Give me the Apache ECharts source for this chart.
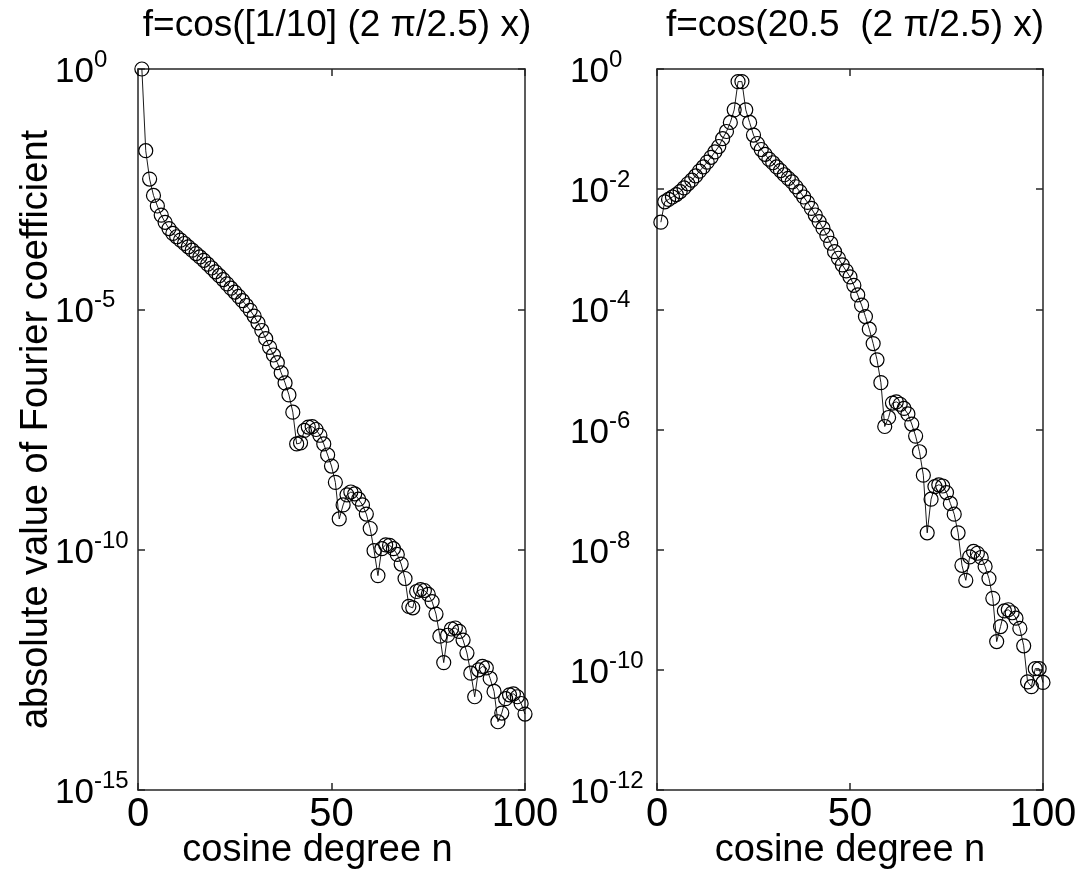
<!DOCTYPE html>
<html><head><meta charset="utf-8">
<script src="https://cdn.jsdelivr.net/npm/echarts@6/dist/echarts.min.js"></script>
<style>html,body{margin:0;padding:0;background:#fff}#c{width:1075px;height:876px}</style>
</head><body><div id="c"></div>
<script>
// cosine degree n (x positions of the markers)
const degrees = [1,2,3,4,5,6,7,8,9,10,11,12,13,14,15,16,17,18,19,20,
 21,22,23,24,25,26,27,28,29,30,31,32,33,34,35,36,37,38,39,40,
 41,42,43,44,45,46,47,48,49,50,51,52,53,54,55,56,57,58,59,60,
 61,62,63,64,65,66,67,68,69,70,71,72,73,74,75,76,77,78,79,80,
 81,82,83,84,85,86,87,88,89,90,91,92,93,94,95,96,97,98,99,100];

// log10 of |Fourier coefficient|, f = cos([1/10](2 pi/2.5) x)
const leftLog10 = [0, -1.70, -2.29, -2.63, -2.85, -3.04, -3.19, -3.32, -3.42, -3.49,
 -3.56, -3.63, -3.70, -3.77, -3.84, -3.91, -3.98, -4.06, -4.14, -4.22,
 -4.30, -4.38, -4.47, -4.56, -4.64, -4.73, -4.82, -4.92, -5.02, -5.14,
 -5.28, -5.44, -5.61, -5.79, -5.95, -6.11, -6.32, -6.53, -6.78, -7.14,
 -7.80, -7.78, -7.52, -7.45, -7.44, -7.50, -7.62, -7.80, -8.03, -8.26,
 -8.60, -9.36, -9.07, -8.86, -8.80, -8.84, -8.95, -9.07, -9.26, -9.56,
 -10.02, -10.54, -9.98, -9.90, -9.91, -9.98, -10.10, -10.30, -10.60, -11.18,
 -11.21, -10.87, -10.83, -10.85, -10.93, -11.08, -11.34, -11.80, -12.35, -11.78,
 -11.65, -11.63, -11.70, -11.88, -12.15, -12.57, -13.06, -12.50, -12.43, -12.46,
 -12.68, -12.95, -13.58, -13.40, -13.10, -13.02, -13.00, -13.06, -13.20, -13.42];

// log10 of |Fourier coefficient|, f = cos(20.5 (2 pi/2.5) x)
const rightLog10 = [-2.55, -2.21, -2.17, -2.13, -2.09, -2.04, -1.98, -1.91, -1.85, -1.78,
 -1.70, -1.63, -1.55, -1.47, -1.38, -1.29, -1.16, -1.04, -0.89, -0.68,
 -0.21, -0.21, -0.68, -0.89, -1.10, -1.24, -1.34, -1.42, -1.50, -1.56,
 -1.63, -1.69, -1.76, -1.82, -1.88, -1.96, -2.04, -2.13, -2.22, -2.32,
 -2.43, -2.54, -2.65, -2.77, -2.90, -3.04, -3.15, -3.26, -3.36, -3.46,
 -3.60, -3.76, -3.93, -4.12, -4.33, -4.57, -4.84, -5.22, -5.95, -5.80,
 -5.56, -5.54, -5.58, -5.65, -5.74, -5.91, -6.11, -6.37, -6.76, -7.72,
 -7.16, -6.95, -6.92, -6.94, -7.05, -7.23, -7.41, -7.72, -8.26, -8.51,
 -8.12, -8.03, -8.06, -8.13, -8.28, -8.48, -8.81, -9.53, -9.28, -9.02,
 -9.00, -9.05, -9.14, -9.31, -9.60, -10.20, -10.28, -9.98, -9.98, -10.21];

const leftTitle = 'f=cos([1/10] (2 \u03c0/2.5) x)';
const rightTitle = 'f=cos(20.5  (2 \u03c0/2.5) x)';
const xName = 'cosine degree n';
const yName = 'absolute value of Fourier coefficient';
const xRange = [0, 100], xStep = 50;
const leftYRange = [-15, 0], leftYStep = 5;
const rightYRange = [-12, 0], rightYStep = 2;

const FONT = "'Liberation Sans',Arial,Helvetica,sans-serif";
const AX = '#262626';
const lineStyle = {color: AX, width: 1.5};

function xAxes(grid, namePad) {
  return [{
    gridIndex: grid, type: 'value', min: xRange[0], max: xRange[1], interval: xStep, position: 'bottom',
    axisLine: {show: true, onZero: false, lineStyle},
    axisTick: {show: true, inside: true, length: 7, lineStyle},
    axisLabel: {show: true, fontSize: 40, fontFamily: FONT, color: '#000', margin: 5},
    splitLine: {show: false},
    name: xName, nameLocation: 'middle', nameGap: 42, nameMoveOverlap: false,
    nameTextStyle: {fontSize: 38, fontFamily: FONT, color: '#000', padding: namePad}
  }, {
    gridIndex: grid, type: 'value', min: xRange[0], max: xRange[1], interval: xStep, position: 'top',
    axisLine: {show: true, onZero: false, lineStyle},
    axisTick: {show: true, inside: true, length: 7, lineStyle},
    axisLabel: {show: false}, splitLine: {show: false}
  }];
}
// "10" with a raised exponent: exponent on a short first line, shifted right by the width of "10"
const expRich = {
  sp: {fontSize: 24, fontFamily: FONT, lineHeight: 4, width: 39},
  s: {fontSize: 24, fontFamily: FONT, color: '#000', lineHeight: 4},
  b: {fontSize: 35, fontFamily: FONT, color: '#000', lineHeight: 20}
};
function yAxes(grid, range, step, margin, name) {
  const main = {
    gridIndex: grid, type: 'value', min: range[0], max: range[1], interval: step, position: 'left',
    axisLine: {show: true, onZero: false, lineStyle},
    axisTick: {show: true, inside: true, length: 7, lineStyle},
    axisLabel: {show: true, align: 'left', margin: margin, padding: [3, 0, 0, 0],
      formatter: v => '{sp| }{s|' + v + '}\n{b|10}', rich: expRich},
    splitLine: {show: false}
  };
  if (name) {
    main.name = name; main.nameLocation = 'middle'; main.nameGap = 82; main.nameRotate = 90;
    main.nameMoveOverlap = false;
    main.nameTextStyle = {fontSize: 38, fontFamily: FONT, color: '#000'};
  }
  return [main, {
    gridIndex: grid, type: 'value', min: range[0], max: range[1], interval: step, position: 'right',
    axisLine: {show: true, onZero: false, lineStyle},
    axisTick: {show: true, inside: true, length: 7, lineStyle},
    axisLabel: {show: false}, splitLine: {show: false}
  }];
}
function series(xi, yi, vals) {
  return {
    type: 'line', xAxisIndex: xi, yAxisIndex: yi,
    data: degrees.map((d, i) => [d, vals[i]]),
    symbol: 'circle', symbolSize: 14, showAllSymbol: true,
    itemStyle: {color: 'rgba(0,0,0,0)', borderColor: '#000', borderWidth: 1.2},
    lineStyle: {color: '#000', width: 0.9},
    emphasis: {disabled: true}, animation: false
  };
}
const titleStyle = {fontSize: 37, fontFamily: FONT, fontWeight: 'normal', color: '#000'};
const chart = echarts.init(document.getElementById('c'), null, {renderer: 'canvas'});
chart.setOption({
  backgroundColor: '#fff',
  animation: false,
  title: [
    {text: leftTitle, left: 332, top: 2, textAlign: 'center', textStyle: titleStyle},
    {text: rightTitle, left: 850, top: 2, textAlign: 'center', textStyle: titleStyle}
  ],
  grid: [
    {left: 138, top: 69, width: 387, height: 721, containLabel: false, outerBoundsMode: 'none'},
    {left: 657, top: 69, width: 386, height: 721, containLabel: false, outerBoundsMode: 'none'}
  ],
  xAxis: [...xAxes(0, [0, 28, 0, 0]), ...xAxes(1, 0)],
  yAxis: [...yAxes(0, leftYRange, leftYStep, 83, yName), ...yAxes(1, rightYRange, rightYStep, 87, null)],
  series: [series(0, 0, leftLog10), series(2, 2, rightLog10)]
});
</script></body></html>
